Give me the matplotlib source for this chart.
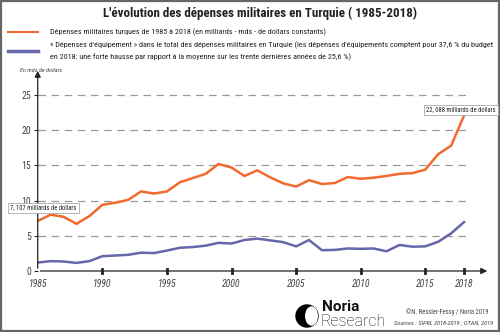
import matplotlib.pyplot as plt
from matplotlib.patches import Circle, Ellipse, Rectangle

# Data (milliards de dollars constants)
years = list(range(1985, 2019))
total = [7.107, 8.0, 7.7, 6.7, 7.8, 9.4, 9.7, 10.1, 11.3, 11.0, 11.3, 12.6, 13.2, 13.8,
         15.2, 14.7, 13.5, 14.3, 13.3, 12.45, 12.0, 12.9, 12.35, 12.5, 13.35, 13.1, 13.25,
         13.5, 13.8, 13.9, 14.4, 16.6, 17.8, 22.088]
equipement = [1.2, 1.4, 1.35, 1.15, 1.4, 2.1, 2.2, 2.3, 2.6, 2.55, 2.9, 3.3, 3.4, 3.6,
              4.0, 3.9, 4.4, 4.6, 4.35, 4.1, 3.5, 4.4, 2.95, 3.0, 3.2, 3.15, 3.2,
              2.8, 3.7, 3.45, 3.5, 4.15, 5.35, 6.95]
yticks = [0, 5, 10, 15, 20, 25]
xticks = [1985, 1990, 1995, 2000, 2005, 2010, 2015, 2018]

plt.rcParams['font.family'] = ['Roboto Condensed', 'DejaVu Sans']

ORANGE = '#f26a2e'
BLUE = '#6666aa'
GREY = '#444444'

W, H = 500, 332
fig = plt.figure(figsize=(5, 3.32), dpi=100)

def px(x, y):
    return x / W, 1 - y / H

# frame around the figure
fig.patches.append(Rectangle((0.002, 0.003), 0.995, 0.994, transform=fig.transFigure,
                             fill=False, edgecolor='#666666', linewidth=1.6))

fig.text(*px(260, 13), "L'évolution des dépenses militaires en Turquie ( 1985-2018)",
         ha='center', va='center', fontsize=9.4, fontweight='bold', color='#222222')

# legend
fig.add_artist(plt.Line2D([8 / W, 38 / W], [1 - 32 / H] * 2, color=ORANGE, lw=1.5))
fig.add_artist(plt.Line2D([8 / W, 38 / W], [1 - 51 / H] * 2, color=BLUE, lw=2.5))
fig.text(*px(50, 32), "Dépenses militaires turques de 1985 à 2018 (en milliards - mds - de dollars constants)",
         ha='left', va='center', fontsize=5.9, color='#222222')
fig.text(*px(50, 45), "« Dépenses d'équipement » dans le total des dépenses militaires en Turquie (les dépenses d'équipements comptent pour 37,6 % du budget",
         ha='left', va='center', fontsize=5.9, color='#222222')
fig.text(*px(50, 57), "en 2018: une forte hausse par rapport à la moyenne sur les trente dernières années de 25,6 %)",
         ha='left', va='center', fontsize=5.9, color='#222222')

# axes: 1985 -> x=37.7px, 12.92 px/year ; 0 -> y=271px, 7.04 px/unit
left, right, bottom, top = 37.7, 490, 271, 68
ax = fig.add_axes([left / W, 1 - bottom / H, (right - left) / W, (bottom - top) / H])
ax.set_xlim(1985, 1985 + (right - left) / 12.92)
ax.set_ylim(0, (bottom - top) / 7.04)
ax.patch.set_alpha(0)
for s in ax.spines.values():
    s.set_visible(False)

for v in yticks[1:]:
    ax.plot([1985, 2018.5], [v, v], color='#999999', lw=0.9, dashes=(6, 4.5), zorder=1)

ax.plot(years, total, color=ORANGE, lw=1.8, zorder=3, solid_joinstyle='round')
ax.plot(years, equipement, color=BLUE, lw=1.8, zorder=3, solid_joinstyle='round')

# arrows for axes
ax.annotate('', xy=(0, 1), xytext=(0, 0), xycoords='axes fraction',
            arrowprops=dict(arrowstyle='-|>', color='#222222', lw=0.9, mutation_scale=9))
ax.annotate('', xy=(1, 0), xytext=(0, 0), xycoords='axes fraction',
            arrowprops=dict(arrowstyle='-|>', color='#222222', lw=0.9, mutation_scale=9))

ax.set_xticks(xticks)
ax.set_xticklabels([str(x) for x in xticks], fontsize=7, style='italic', color=GREY)
ax.set_yticks(yticks)
ax.set_yticklabels([str(y) for y in yticks], fontsize=7, color=GREY)
ax.tick_params(axis='y', length=3, width=0.8, pad=2, color='#222222')
ax.tick_params(axis='x', length=0, pad=6)
for x in xticks[1:]:
    ax.plot([x, x], [-0.35, 0.35], color='#222222', lw=2, zorder=4, clip_on=False)

fig.text(*px(20, 70), "En mds de dollars", ha='left', va='center', fontsize=4.4,
         style='italic', color=GREY)

box = dict(boxstyle='square,pad=0.3', fc='white', ec='#aaaaaa', lw=0.6)
fig.text(*px(43.5, 208), "7, 107 milliards de dollars", ha='center', va='center',
         fontsize=4.7, color='#222222', bbox=box, zorder=5)
fig.text(*px(461, 110), "22, 088 milliards de dollars", ha='center', va='center',
         fontsize=4.7, color='#222222', bbox=box, zorder=5)

# logo
lax = fig.add_axes([292 / W, 1 - 330 / H, 30 / W, 28 / H])
lax.set_xlim(0, 30)
lax.set_ylim(0, 28)
lax.set_aspect('equal')
lax.axis('off')
lax.add_patch(Circle((15, 14), 11, color='black'))
lax.add_patch(Ellipse((19.5, 14), 11.5, 18, color='white'))
fig.text(*px(322, 307), "Noria", ha='left', va='center', fontsize=11,
         fontweight='bold', family='Roboto', color='#111111')
fig.text(*px(320, 322), "Research", ha='left', va='center', fontsize=11.5,
         fontweight='light', family='Roboto', color='#111111')

fig.text(*px(488, 312), "©N. Ressler-Fessy / Noria 2019", ha='right', va='center',
         fontsize=4.8, color=GREY)
fig.text(*px(493, 324), "Sources : SIPRI, 2018-2019 ; OTAN, 2019", ha='right', va='center',
         fontsize=4.6, style='italic', color=GREY)

fig.savefig('out.png', dpi=100)
